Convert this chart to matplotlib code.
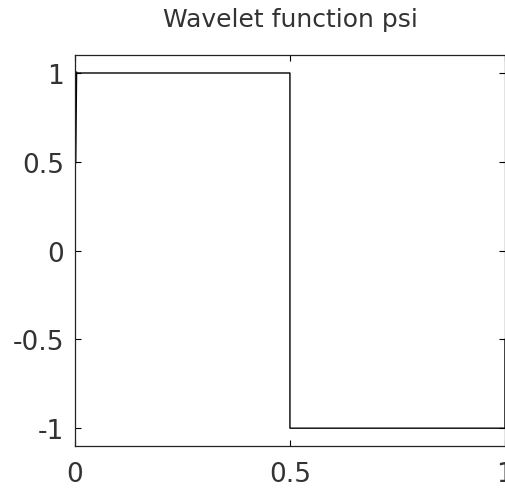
import matplotlib
matplotlib.use("Agg")
import matplotlib.pyplot as plt

# Haar wavelet psi samples (as drawn)
x_vals = [0.0, 0.002, 0.5, 0.5, 1.0, 1.0]
psi_vals = [0.5, 1.0, 1.0, -1.0, -1.0, -0.5]

x_ticks = [0, 0.5, 1]
x_tick_labels = ["0", "0.5", "1"]
y_ticks = [-1, -0.5, 0, 0.5, 1]
y_tick_labels = ["-1", "-0.5", "0", "0.5", "1"]
title = "Wavelet function psi"

plt.rcParams['font.family'] = ['DejaVu Sans']

fig = plt.figure(figsize=(5.06, 4.89), dpi=100)
ax = fig.add_axes([0.148, 0.086, 0.850, 0.799])
ax.plot(x_vals, psi_vals, color="black", linewidth=1.0)
ax.plot(x_vals[:2], psi_vals[:2], color="black", linewidth=2.2)
ax.set_xlim(0, 1)
ax.set_ylim(-1.1, 1.1)
ax.set_xticks(x_ticks)
ax.set_xticklabels(x_tick_labels)
ax.set_yticks(y_ticks)
ax.set_yticklabels(y_tick_labels)
ax.tick_params(direction="in", top=True, right=True, length=4, width=0.8,
               labelsize=19, colors="black", labelcolor="#333333")
ax.tick_params(axis="x", pad=11)
ax.tick_params(axis="y", pad=8)
for s in ax.spines.values():
    s.set_linewidth(0.9)
    s.set_color("#222222")
ax.set_title(title, fontsize=18, pad=21, color="#333333")
fig.savefig("out.png", dpi=100)
